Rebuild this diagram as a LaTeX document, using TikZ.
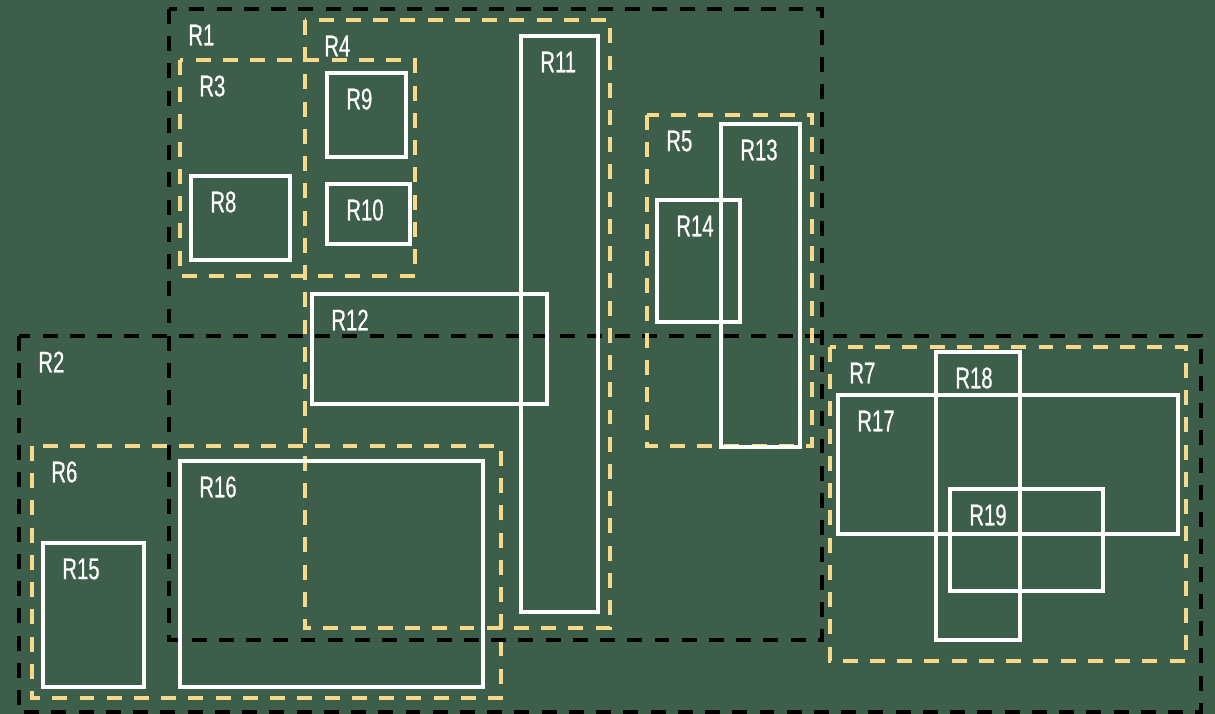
\documentclass[tikz,border=0pt]{standalone}
\usepackage{fontspec}
\setmainfont{Liberation Sans}[FakeStretch=0.68, FakeBold=0.6]
\usetikzlibrary{positioning}
\definecolor{board}{RGB}{61,94,74}
\definecolor{sand}{RGB}{247,217,140}

\begin{document}
\begin{tikzpicture}[
        x=0.02cm, y=-0.02cm,
        every node/.style={font=\fontsize{17}{18}\selectfont, text=white},
        outer/.style={draw=black, line width=2.2pt, dash pattern=on 8.5pt off 7pt},
        inner/.style={draw=sand, line width=2.2pt, dash pattern=on 8.5pt off 7pt},
        leaf/.style={draw=white, line width=2.2pt},
        lbl/.style={anchor=west, inner sep=0pt}
    ]
        \fill[board] (0,0) rectangle (1215,714);
        \useasboundingbox (0,0) rectangle (1215,714);

        % outer regions
        \draw[outer] (169,9) rectangle (822,640);
        \draw[outer] (19,336) rectangle (1201,712);

        % middle regions
        \draw[inner] (180,60) rectangle (415,276);
        \draw[inner] (305,20) rectangle (610,628);
        \draw[inner] (647,115) rectangle (812,446);
        \draw[inner] (32,446) rectangle (501,698);
        \draw[inner] (830,347) rectangle (1186,661);

        % leaves
        \draw[leaf] (191,176) rectangle (290,260);
        \draw[leaf] (327,73) rectangle (406,157);
        \draw[leaf] (327,184) rectangle (410,244);
        \draw[leaf] (521,36) rectangle (598,612);
        \draw[leaf] (312,294) rectangle (547,404);
        \draw[leaf] (721,124) rectangle (800,447);
        \draw[leaf] (657,200) rectangle (740,322);
        \draw[leaf] (43,543) rectangle (144,687);
        \draw[leaf] (180,461) rectangle (483,687);
        \draw[leaf] (838,395) rectangle (1178,534);
        \draw[leaf] (936,352) rectangle (1020,640);
        \draw[leaf] (950,489) rectangle (1103,591);

        \node[lbl] (r1) at (188,35) {R1};
        \node[lbl] (r2) at (38,362) {R2};
        \node[lbl] (r3) at (199,86) {R3};
        \node[lbl] (r4) at (324,46) {R4};
        \node[lbl] (r5) at (666,141) {R5};
        \node[lbl] (r6) at (51,472) {R6};
        \node[lbl] (r7) at (849,373) {R7};
        \node[lbl] (r8) at (210,202) {R8};
        \node[lbl] (r9) at (346,99) {R9};
        \node[lbl] (r10) at (346,210) {R10};
        \node[lbl] (r11) at (540,62) {R11};
        \node[lbl] (r12) at (331,320) {R12};
        \node[lbl] (r13) at (740,150) {R13};
        \node[lbl] (r14) at (676,226) {R14};
        \node[lbl] (r15) at (62,569) {R15};
        \node[lbl] (r16) at (199,487) {R16};
        \node[lbl] (r17) at (857,421) {R17};
        \node[lbl] (r18) at (955,378) {R18};
        \node[lbl] (r19) at (969,515) {R19};
    \end{tikzpicture}
\end{document}
